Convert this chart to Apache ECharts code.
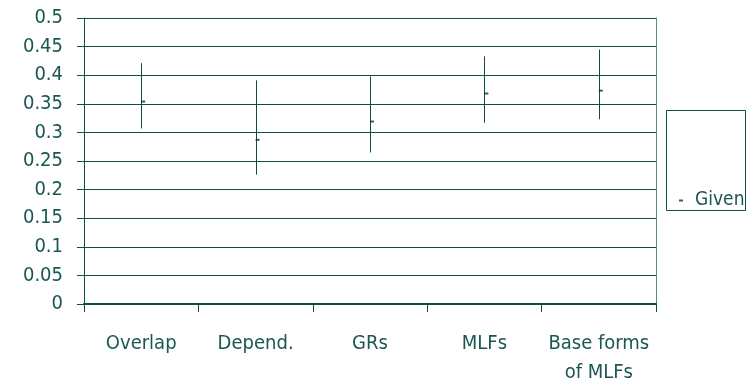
<!DOCTYPE html>
<html><head><meta charset="utf-8">
<script src="https://cdn.jsdelivr.net/npm/echarts@6/dist/echarts.min.js"></script>
<style>html,body{margin:0;padding:0;background:#fff}#c{width:749px;height:382px}</style>
</head><body><div id="c"></div>
<script>
var categories = ['Overlap', 'Depend.', 'GRs', 'MLFs', 'Base forms\nof MLFs'];
var highValues = [0.421, 0.391, 0.398, 0.433, 0.445];
var lowValues  = [0.307, 0.226, 0.265, 0.317, 0.323];
var givenValues = [0.354, 0.287, 0.319, 0.368, 0.373];
var yTicks = {min: 0, max: 0.5, interval: 0.05};

var C = '#0d4d48';
var T = '#1a5752';
var FONT = '"DejaVu Sans Condensed", "DejaVu Sans", sans-serif';
var chart = echarts.init(document.getElementById('c'), null, {renderer: 'canvas'});
var barData = categories.map(function (c, i) { return [i, lowValues[i], highValues[i]]; });
chart.setOption({
  animation: false,
  grid: {left: 84, right: 93, top: 18, bottom: 78, containLabel: false, outerBoundsMode: 'none'},
  xAxis: {
    type: 'category', data: categories, boundaryGap: true,
    axisLine: {lineStyle: {color: C, width: 2}},
    axisTick: {show: true, length: 8, interval: 0, lineStyle: {color: C, width: 1}},
    axisLabel: {color: T, fontFamily: FONT, fontSize: 20, margin: 25, lineHeight: 29, interval: 0, hideOverlap: false},
    splitLine: {show: false}
  },
  yAxis: [{
    type: 'value', min: yTicks.min, max: yTicks.max, interval: yTicks.interval,
    axisLine: {show: true, lineStyle: {color: C, width: 1}},
    axisTick: {show: true, length: 7, lineStyle: {color: C}},
    axisLabel: {color: T, fontFamily: FONT, fontSize: 20, margin: 21},
    splitLine: {show: true, lineStyle: {color: C, width: 1}}
  }, {
    type: 'value', min: yTicks.min, max: yTicks.max, interval: yTicks.interval, position: 'right',
    axisLine: {show: true, lineStyle: {color: '#5a8a86', width: 1}},
    axisTick: {show: false}, axisLabel: {show: false}, splitLine: {show: false}
  }],
  legend: {
    left: 674, top: 186, padding: 5, data: [{name: 'Given', icon: 'rect'}],
    itemWidth: 4, itemHeight: 2, itemGap: 0,
    textStyle: {color: T, fontFamily: FONT, fontSize: 19, padding: [0, 0, 0, 7]}
  },
  graphic: [{
    type: 'rect', shape: {x: 666.5, y: 110.5, width: 79, height: 100},
    style: {fill: 'none', stroke: C, lineWidth: 1}
  }],
  series: [{
    type: 'custom', name: 'range', data: barData,
    renderItem: function (params, api) {
      var top = api.coord([api.value(0), api.value(2)]);
      var bot = api.coord([api.value(0), api.value(1)]);
      var x = Math.round(top[0]) + 0.5;
      return {type: 'line', shape: {x1: x, y1: top[1], x2: x, y2: bot[1]},
        style: {stroke: C, lineWidth: 1}};
    },
    silent: true
  }, {
    type: 'scatter', name: 'Given', data: givenValues,
    symbol: 'rect', symbolSize: [4, 2], symbolOffset: [2, 0],
    itemStyle: {color: '#003a36'}, z: 5
  }]
});
</script></body></html>
